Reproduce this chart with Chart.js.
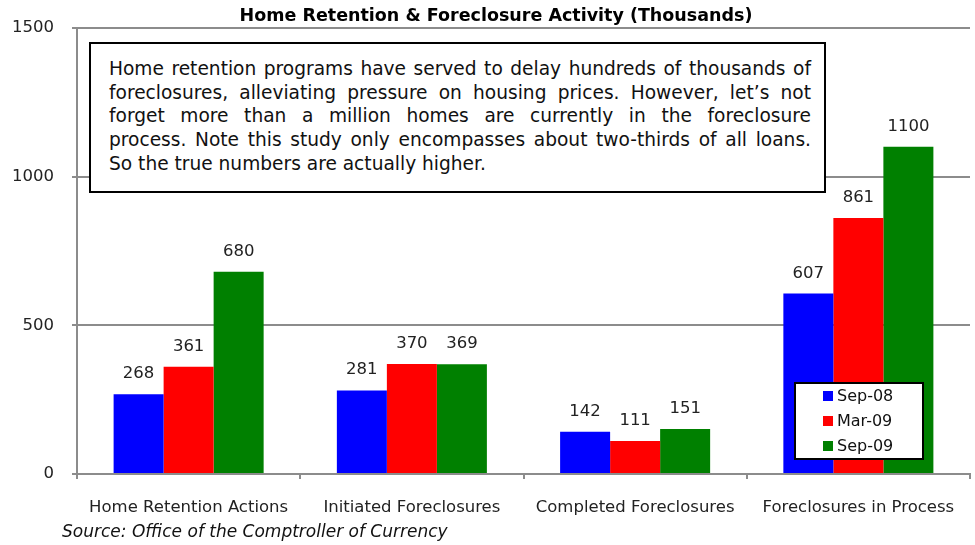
<!DOCTYPE html>
<html>
<head>
<meta charset="utf-8">
<script src="https://cdn.jsdelivr.net/npm/chart.js@4/dist/chart.umd.min.js"></script>
<style>
  html, body { margin: 0; padding: 0; background: #fff; }
  #wrap { position: relative; width: 975px; height: 545px; }
  #note {
    position: absolute; left: 89px; top: 42px; width: 733px; height: 147px;
    border: 2px solid #000; background: #fff; box-sizing: content-box;
    font-family: "DejaVu Sans", sans-serif; font-size: 18.6px; color: #111;
    padding: 0;
  }
  #note .ln { position: absolute; left: 18px; width: 702px; text-align: justify; text-align-last: justify; line-height: 22px; }
  #note .ln.last { text-align-last: left; white-space: nowrap; }
</style>
</head>
<body>
<div id="wrap">
  <canvas id="c" width="975" height="545"></canvas>
  <div id="note"></div>
</div>
<script>
const categories = ["Home Retention Actions", "Initiated Foreclosures", "Completed Foreclosures", "Foreclosures in Process"];
const seriesNames = ["Sep-08", "Mar-09", "Sep-09"];
const sep08 = [268, 281, 142, 607];
const mar09 = [361, 370, 111, 861];
const sep09 = [680, 369, 151, 1100];
const seriesColors = ["#0000FF", "#FF0000", "#008000"];
const yTicks = [0, 500, 1000, 1500];
const titleText = "Home Retention & Foreclosure Activity (Thousands)";
const sourceText = "Source: Office of the Comptroller of Currency";
const noteLines = [
  "Home retention programs have served to delay hundreds of thousands of",
  "foreclosures, alleviating pressure on housing prices. However, let\u2019s not",
  "forget more than a million homes are currently in the foreclosure",
  "process. Note this study only encompasses about two-thirds of all loans.",
  "So the true numbers are actually higher."
];

const note = document.getElementById('note');
noteLines.forEach((t, i) => {
  const d = document.createElement('div');
  d.className = 'ln' + (i === noteLines.length - 1 ? ' last' : '');
  d.style.top = (14 + i * 23.7) + 'px';
  d.textContent = t;
  note.appendChild(d);
});

const FONT = "'DejaVu Sans', sans-serif";

const valueLabels = {
  id: 'valueLabels',
  afterDatasetsDraw(chart) {
    const ctx = chart.ctx;
    ctx.save();
    ctx.font = "16.5px " + FONT;
    ctx.fillStyle = "#222";
    ctx.textAlign = "center";
    ctx.textBaseline = "bottom";
    chart.data.datasets.forEach((ds, di) => {
      chart.getDatasetMeta(di).data.forEach((bar, i) => {
        ctx.fillText(String(ds.data[i]), bar.x, bar.y - 12);
      });
    });
    ctx.restore();
  }
};

const extras = {
  id: 'extras',
  afterDraw(chart) {
    const ctx = chart.ctx;
    ctx.save();
    // title
    ctx.font = "bold 17.5px " + FONT;
    ctx.fillStyle = "#000";
    ctx.textAlign = "center";
    ctx.textBaseline = "middle";
    ctx.fillText(titleText, 496, 16);
    // legend box
    const lx = 795, ly = 383, lw = 128, lh = 76;
    ctx.fillStyle = "#fff";
    ctx.fillRect(lx, ly, lw, lh);
    ctx.strokeStyle = "#000";
    ctx.lineWidth = 2;
    ctx.strokeRect(lx, ly, lw, lh);
    ctx.font = "16px " + FONT;
    ctx.textBaseline = "middle";
    ctx.textAlign = "left";
    chart.data.datasets.forEach((ds, i) => {
      const cy = ly + 13 + i * 25;
      ctx.fillStyle = ds.backgroundColor;
      ctx.fillRect(lx + 28, cy - 5, 10, 10);
      ctx.fillStyle = "#111";
      ctx.fillText(ds.label, lx + 42, cy + 1);
    });
    // source
    ctx.font = "italic 17px " + FONT;
    ctx.fillStyle = "#111";
    ctx.textBaseline = "middle";
    ctx.fillText(sourceText, 62, 533);
    ctx.restore();
  }
};

new Chart(document.getElementById('c'), {
  type: 'bar',
  data: {
    labels: categories,
    datasets: [
      { label: seriesNames[0], data: sep08, backgroundColor: seriesColors[0] },
      { label: seriesNames[1], data: mar09, backgroundColor: seriesColors[1] },
      { label: seriesNames[2], data: sep09, backgroundColor: seriesColors[2] }
    ]
  },
  options: {
    responsive: false,
    animation: false,
    devicePixelRatio: 1,
    layout: { padding: { left: 0, right: 5, top: 27, bottom: 0 } },
    datasets: { bar: { categoryPercentage: 0.672, barPercentage: 1.0, borderWidth: 0 } },
    plugins: {
      legend: { display: false },
      tooltip: { enabled: false },
      title: { display: false }
    },
    scales: {
      x: {
        offset: true,
        grid: { offset: true, drawOnChartArea: false, drawTicks: true, tickLength: 5, color: "#8c8c8c", lineWidth: 2 },
        border: { color: "#8c8c8c", width: 2 },
        ticks: { color: "#222", font: { family: FONT, size: 16.5 }, padding: 19, maxRotation: 0 },
        afterFit(s) { s.height = 71; }
      },
      y: {
        min: 0, max: 1500,
        afterBuildTicks(s) { s.ticks = yTicks.map(v => ({ value: v })); },
        grid: { color: "#8c8c8c", lineWidth: 2, tickLength: 5 },
        border: { color: "#8c8c8c", width: 2 },
        ticks: { color: "#222", font: { family: FONT, size: 16.5 }, padding: 18, callback: v => String(v) },
        afterFit(s) { s.width = 77; }
      }
    }
  },
  plugins: [valueLabels, extras]
});
</script>
</body>
</html>
